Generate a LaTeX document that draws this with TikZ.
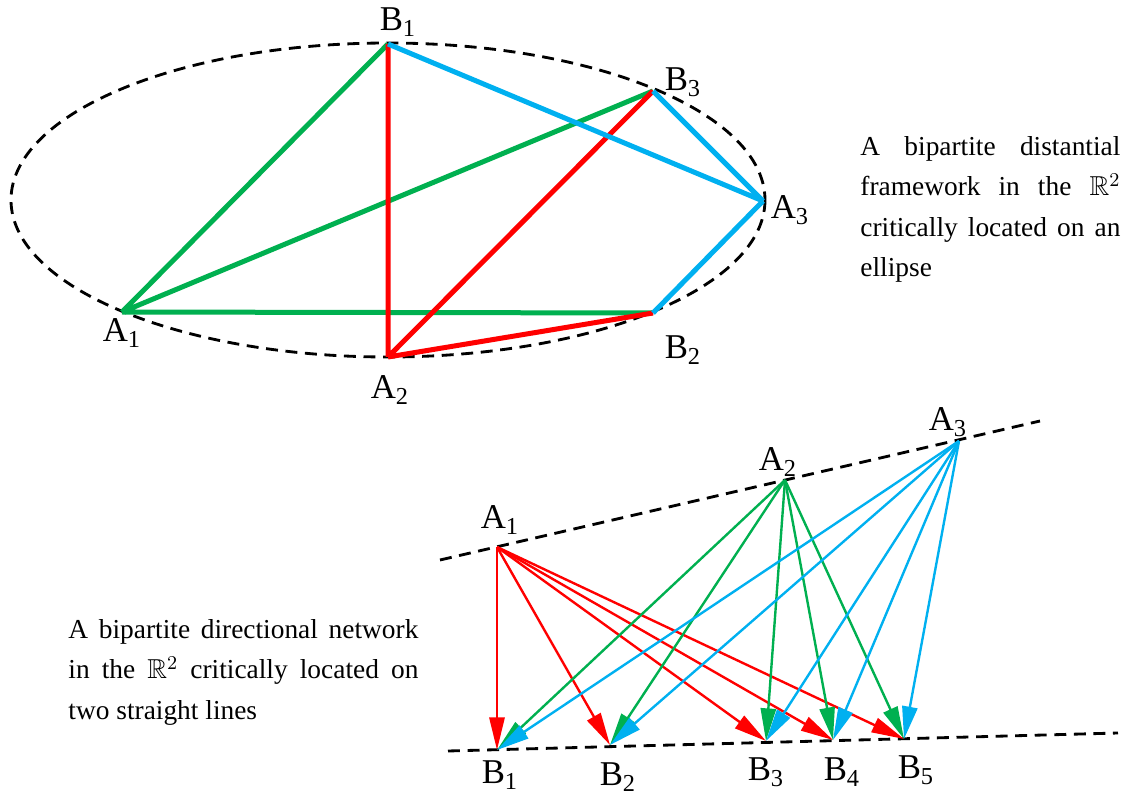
\documentclass[tikz,border=0pt]{standalone}
\usepackage{fontspec}
\setmainfont{Liberation Serif}
\usepackage{amssymb}
\usetikzlibrary{arrows.meta}
\definecolor{grn}{RGB}{0,176,80}
\definecolor{rd}{RGB}{255,0,0}
\definecolor{blu}{RGB}{0,176,240}

\begin{document}
\begin{tikzpicture}[x=0.46pt, y=-0.46pt,
    edge/.style={line width=2.3pt},
    arw/.style={line width=1.1pt, -{Triangle[length=15pt,width=7pt]}},
    guide/.style={black, line width=1.3pt, dash pattern=on 5.5pt off 3.5pt},
    lbl/.style={font=\fontsize{16}{19}\selectfont, inner sep=0pt},
    note/.style={font=\fontsize{12.6}{18.6}\selectfont, align=justify,
        inner sep=0pt, anchor=north west}
]
\useasboundingbox (0,0) rectangle (1124,794);

% ellipse
\draw[guide] (388,200) ellipse [x radius=377, y radius=157];

\coordinate (A1) at (122,312);
\coordinate (A2) at (388,357);
\coordinate (A3) at (763,201);
\coordinate (B1) at (388,44);
\coordinate (B2) at (653,313);
\coordinate (B3) at (653,91);

\draw[edge, grn] (A1) -- (B1) (A1) -- (B3) (A1) -- (B2);
\draw[edge, rd] (A2) -- (B1) (A2) -- (B3) (A2) -- (B2);
\draw[edge, blu] (A3) -- (B1) (A3) -- (B3) (A3) -- (B2);

\node[lbl] (lA1) at (122,333) {A\textsubscript{1}};
\node[lbl] (lA2) at (390,390) {A\textsubscript{2}};
\node[lbl] (lA3) at (790,210) {A\textsubscript{3}};
\node[lbl] (lB1) at (398,22) {B\textsubscript{1}};
\node[lbl] (lB2) at (683,350) {B\textsubscript{2}};
\node[lbl] (lB3) at (683,82) {B\textsubscript{3}};

\node[note, text width=119.6pt] (top) at (860,136)
    {A bipartite distantial framework in the $\mathbb{R}^2$ critically located on an ellipse};

% two lines
\coordinate (u0) at (440,560);
\coordinate (u1) at (1040,421);
\coordinate (l0) at (448,751);
\coordinate (l1) at (1118,733);
\draw[guide] (u0) -- (u1);
\draw[guide] (l0) -- (l1);

\coordinate (a1) at (497,547);
\coordinate (a2) at (785,480);
\coordinate (a3) at (959,441);
\coordinate (b1) at (497,750);
\coordinate (b2) at (610,745);
\coordinate (b3) at (766,741);
\coordinate (b4) at (833,740);
\coordinate (b5) at (904,739);

\draw[arw, rd] (a1) -- (b1);
\draw[arw, rd] (a1) -- (b2);
\draw[arw, rd] (a1) -- (b3);
\draw[arw, rd] (a1) -- (b4);
\draw[arw, rd] (a1) -- (b5);
\draw[arw, grn] (a2) -- (b1);
\draw[arw, grn] (a2) -- (b2);
\draw[arw, grn] (a2) -- (b3);
\draw[arw, grn] (a2) -- (b4);
\draw[arw, grn] (a2) -- (b5);
\draw[arw, blu] (a3) -- (b1);
\draw[arw, blu] (a3) -- (b2);
\draw[arw, blu] (a3) -- (b3);
\draw[arw, blu] (a3) -- (b4);
\draw[arw, blu] (a3) -- (b5);

\node[lbl] (la1) at (500,520) {A\textsubscript{1}};
\node[lbl] (la2) at (778,462) {A\textsubscript{2}};
\node[lbl] (la3) at (948,422) {A\textsubscript{3}};
\node[lbl] (lb1) at (500,775) {B\textsubscript{1}};
\node[lbl] (lb2) at (618,777) {B\textsubscript{2}};
\node[lbl] (lb3) at (766,772) {B\textsubscript{3}};
\node[lbl] (lb4) at (842,772) {B\textsubscript{4}};
\node[lbl] (lb5) at (916,770) {B\textsubscript{5}};

\node[note, text width=161pt] (bottom) at (68,619)
    {A bipartite directional network in the $\mathbb{R}^2$ critically located on two straight lines};

\end{tikzpicture}
\end{document}
